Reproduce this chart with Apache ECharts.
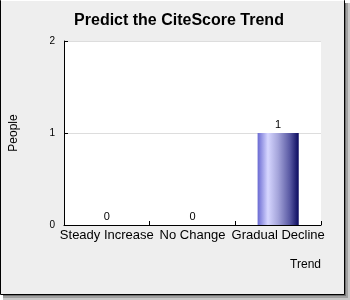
<!DOCTYPE html>
<html>
<head>
<meta charset="utf-8">
<style>
  html, body { margin: 0; padding: 0; background: #ffffff; }
  #chart { width: 350px; height: 300px; }
</style>
<script src="https://cdn.jsdelivr.net/npm/echarts@6/dist/echarts.min.js"></script>
</head>
<body>
<div id="chart"></div>
<script>
// Poll results: how many people chose each predicted trend
const categories = ['Steady Increase', 'No Change', 'Gradual Decline'];
const people = [0, 0, 1];
const yTicks = [0, 1, 2];

const FONT = '"Liberation Sans", Arial, sans-serif';

const chart = echarts.init(document.getElementById('chart'), null, { renderer: 'canvas' });

const barFill = new echarts.graphic.LinearGradient(0, 0, 1, 0, [
  { offset: 0.00, color: '#6a6ad2' },
  { offset: 0.25, color: '#d6d6ff' },
  { offset: 0.50, color: '#a4a4da' },
  { offset: 0.78, color: '#5a5aa4' },
  { offset: 1.00, color: '#0a0a5e' }
]);

chart.setOption({
  animation: false,
  backgroundColor: '#ffffff',
  graphic: [
    // drop shadow of the panel
    { type: 'rect', z: -30, silent: true, shape: { x: 3, y: 3, width: 347, height: 297 }, style: { fill: '#c8c8c8' } },
    { type: 'rect', z: -29, silent: true, shape: { x: 3, y: 3, width: 345, height: 295 }, style: { fill: '#a0a0a0' } },
    { type: 'rect', z: -28, silent: true, shape: { x: 3, y: 3, width: 343, height: 293 }, style: { fill: '#707070' } },
    // panel with dark frame
    { type: 'rect', z: -27, silent: true, shape: { x: 0.5, y: 0.5, width: 344, height: 294 }, style: { fill: '#eeeeee', stroke: '#000000', lineWidth: 1 } },
    { type: 'line', z: -26, silent: true, shape: { x1: 1, y1: 0.5, x2: 344, y2: 0.5 }, style: { stroke: '#ffffff', lineWidth: 1 } }
  ],
  title: {
    text: 'Predict the CiteScore Trend',
    left: 174,
    textAlign: 'center',
    top: 8,
    textStyle: { fontFamily: FONT, fontSize: 16, fontWeight: 'bold', color: '#000000' }
  },
  grid: {
    left: 61, top: 41, right: 29, bottom: 75,
    show: true, backgroundColor: '#ffffff', borderWidth: 0,
    containLabel: false
  },
  xAxis: {
    type: 'category',
    data: categories,
    boundaryGap: true,
    name: 'Trend',
    nameLocation: 'end',
    nameGap: 0,
    nameTextStyle: {
      fontFamily: FONT, fontSize: 12, color: '#000000',
      align: 'right', verticalAlign: 'top', padding: [34, 0, 0, 0]
    },
    axisLine: { show: true, lineStyle: { color: '#000000', width: 1 } },
    axisTick: { show: true, inside: true, length: 4, lineStyle: { color: '#000000' } },
    axisLabel: { fontFamily: FONT, fontSize: 13, color: '#000000', margin: 4, interval: 0 },
    splitLine: { show: false }
  },
  yAxis: {
    type: 'value',
    min: yTicks[0],
    max: yTicks[yTicks.length - 1],
    interval: 1,
    name: 'People',
    nameLocation: 'middle',
    nameGap: 44,
    nameTextStyle: { fontFamily: FONT, fontSize: 12, color: '#000000' },
    axisLine: { show: true, lineStyle: { color: '#000000', width: 1 } },
    axisTick: { show: true, inside: true, length: 4, lineStyle: { color: '#000000' } },
    axisLabel: { fontFamily: FONT, fontSize: 10, color: '#000000', margin: 9 },
    splitLine: { show: true, lineStyle: { color: '#dddddd', width: 1 } }
  },
  series: [{
    type: 'bar',
    data: people,
    barWidth: '48%',
    itemStyle: { color: barFill },
    label: {
      show: true,
      position: 'top',
      distance: 3,
      fontFamily: FONT,
      fontSize: 11,
      color: '#000000'
    }
  }]
});
</script>
</body>
</html>
